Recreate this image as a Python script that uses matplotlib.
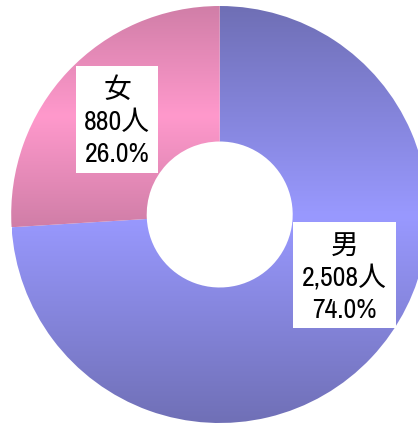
import numpy as np
import matplotlib
matplotlib.use("Agg")
import matplotlib.pyplot as plt
from matplotlib.colors import LinearSegmentedColormap
from matplotlib.patches import Rectangle

# Data
categories = ["男", "女"]
counts = [2508, 880]
percents = [74.0, 26.0]
light_colors = ["#9999ff", "#ff99cc"]
dark_colors = ["#6f6fb5", "#d07ea7"]

W, H = 418, 425
fig = plt.figure(figsize=(W / 100, H / 100), dpi=100)
ax = fig.add_axes([0, 0, 1, 1])

cx, cy = 219.7, H - 214.5
R, r_in = 208.5, 73.0

wedges, _ = ax.pie(counts, startangle=90, counterclock=False, radius=R,
                   center=(cx, cy), frame=True,
                   wedgeprops=dict(width=R - r_in, linewidth=0))
ax.set_xlim(0, W)
ax.set_ylim(0, H)
ax.set_aspect("equal")
ax.axis("off")

for w, lc, dc in zip(wedges, light_colors, dark_colors):
    w.set_facecolor("none")
    verts = w.get_path().vertices
    y0, y1 = verts[:, 1].min(), verts[:, 1].max()
    x0, x1 = verts[:, 0].min(), verts[:, 0].max()
    cmap = LinearSegmentedColormap.from_list("g", [dc, lc, dc])
    grad = np.linspace(0, 1, 256).reshape(-1, 1)
    im = ax.imshow(grad, cmap=cmap, extent=(x0, x1, y0, y1), origin="lower",
                   aspect="auto", interpolation="bilinear", zorder=1)
    im.set_clip_path(w)

ax.set_xlim(0, W)
ax.set_ylim(0, H)

fam = ["Archivo Narrow", "Liberation Sans", "Noto Sans CJK JP"]
# label boxes (layout, pixel coords from top)
boxes = {
    "男": (293, 221.7, 395.7, 328.3),
    "女": (76.3, 66, 157.7, 172.7),
}
for cat, n, p in zip(categories, counts, percents):
    bx0, by0, bx1, by1 = boxes[cat]
    ax.add_patch(Rectangle((bx0, H - by1), bx1 - bx0, by1 - by0,
                           facecolor="white", edgecolor="none", zorder=3))
    tx = (bx0 + bx1) / 2
    lines = [cat, f"{n:,}人", f"{p:.1f}%"]
    for i, s in enumerate(lines):
        base = by0 + 32 + 32 * i
        ax.text(tx, H - base, s, ha="center", va="baseline",
                fontsize=20, family=fam, zorder=4, color="black")

fig.savefig("out.png", dpi=100)
